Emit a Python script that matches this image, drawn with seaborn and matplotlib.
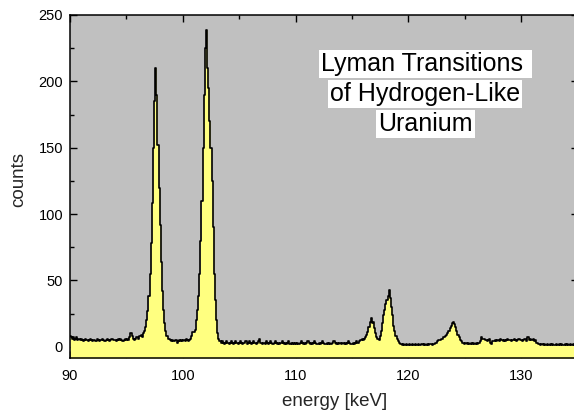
import seaborn as sns
import matplotlib.pyplot as plt
import numpy as np
from matplotlib.ticker import MultipleLocator

# spectrum: channel calibration and counts (0.1 keV per channel)
energy_start = 90.0
channel_width = 0.1
counts = [
    8, 7, 6, 7, 5, 6, 7, 5, 6, 5,            # 90
    6, 5, 4, 5, 6, 5, 4, 5, 6, 5,            # 91
    4, 5, 5, 4, 6, 5, 4, 5, 5, 6,            # 92
    5, 4, 5, 6, 5, 4, 5, 6, 6, 5,            # 93
    5, 4, 5, 6, 5, 6, 5, 4, 5, 6,            # 94
    5, 6, 5, 7, 10, 8, 6, 5, 6, 7,           # 95
    7, 6, 8, 9, 7, 10, 12, 15, 20, 27,       # 96
    38, 55, 78, 108, 150, 185, 210, 190, 152, 120,   # 97
    92, 64, 42, 28, 18, 12, 8, 6, 6, 5,      # 98
    4, 5, 4, 4, 5, 3, 4, 5, 4, 5,            # 99
    4, 5, 4, 6, 5, 4, 5, 6, 8, 11,           # 100
    11, 13, 20, 28, 38, 55, 80, 110, 150, 190,       # 101
    225, 239, 210, 195, 170, 150, 125, 90, 55, 35,   # 102
    20, 10, 6, 4, 3, 4, 3, 2, 3, 4,          # 103
    3, 2, 3, 4, 3, 2, 3, 4, 3, 2,            # 104
    3, 4, 3, 2, 3, 3, 4, 2, 3, 4,            # 105
    3, 2, 3, 4, 3, 2, 3, 4, 6, 3,            # 106
    3, 2, 3, 2, 4, 3, 2, 3, 4, 3,            # 107
    2, 3, 4, 3, 2, 3, 2, 3, 4, 3,            # 108
    2, 3, 2, 3, 4, 2, 3, 2, 3, 2,            # 109
    3, 2, 3, 2, 3, 4, 3, 2, 3, 2,            # 110
    3, 4, 3, 2, 3, 2, 3, 4, 3, 2,            # 111
    2, 3, 2, 3, 4, 3, 2, 2, 3, 2,            # 112
    3, 2, 2, 3, 4, 3, 2, 3, 2, 3,            # 113
    3, 2, 3, 2, 3, 2, 3, 4, 3, 2,            # 114
    2, 3, 2, 3, 4, 3, 3, 4, 5, 6,            # 115
    5, 6, 7, 9, 11, 15, 19, 22, 18, 19,      # 116
    14, 10, 7, 6, 5, 8, 12, 18, 24, 28,      # 117
    32, 35, 38, 43, 37, 30, 24, 16, 12, 8,   # 118
    6, 4, 3, 2, 2, 1, 2, 1, 2, 1,            # 119
    1, 2, 1, 1, 2, 1, 2, 1, 1, 2,            # 120
    1, 1, 2, 1, 2, 1, 1, 2, 1, 2,            # 121
    2, 1, 2, 2, 3, 3, 4, 5, 5, 6,            # 122
    6, 7, 7, 8, 9, 10, 12, 14, 16, 18,       # 123
    19, 17, 15, 12, 9, 7, 5, 4, 3, 3,        # 124
    2, 3, 2, 3, 2, 2, 3, 2, 3, 2,            # 125
    3, 2, 3, 3, 4, 7, 6, 6, 5, 5,            # 126
    4, 5, 6, 3, 2, 4, 4, 5, 4, 5,            # 127
    5, 4, 6, 5, 4, 5, 4, 5, 6, 5,            # 128
    5, 4, 5, 5, 6, 5, 4, 5, 6, 5,            # 129
    5, 4, 5, 6, 6, 4, 7, 5, 6, 5,            # 130
    5, 6, 4, 5, 3, 2, 2, 1, 2, 2,            # 131
    1, 2, 1, 2, 1, 1, 2, 1, 2, 1,            # 132
    1, 2, 1, 1, 2, 1, 2, 1, 1, 2,            # 133
    1, 2, 1, 1, 2, 1, 2, 1, 1, 2,            # 134
]
energy = np.round(energy_start + channel_width * np.arange(len(counts)), 2)

title_lines = ['Lyman Transitions ', 'of Hydrogen-Like', 'Uranium']
x_ticks = [90, 100, 110, 120, 130]
y_ticks = [0, 50, 100, 150, 200, 250]

sns.set_style('ticks')
plt.rcParams['font.family'] = ['Liberation Sans', 'DejaVu Sans']

fig = plt.figure(figsize=(5.74, 4.12), dpi=100)
ax = fig.add_axes([0.122, 0.1303, 0.8843, 0.8333])
ax.set_facecolor('#C0C0C0')

y_bottom = -8.7
ax.fill_between(energy, counts, y_bottom, step='mid', color='#FFFF80', lw=0)
sns.lineplot(
    x=energy
    , y=counts
    , drawstyle='steps-mid'
    , color='black'
    , linewidth=1.2
    , ax=ax
)

ax.set(xlim=(90, 135), ylim=(y_bottom, 250))
ax.set_xticks(x_ticks)
ax.set_yticks(y_ticks)
ax.xaxis.set_minor_locator(MultipleLocator(5))
ax.yaxis.set_minor_locator(MultipleLocator(25))
ax.tick_params(which='both', direction='in', top=True, right=True,
               width=1.0, color='black')
ax.tick_params(which='major', length=5, labelsize=10.5, colors='black')
ax.tick_params(axis='x', which='major', pad=8)
ax.tick_params(axis='y', which='major', pad=5)
ax.tick_params(which='minor', length=3)

for side in ['left', 'bottom', 'top', 'right']:
    ax.spines[side].set_linewidth(1.1)
    ax.spines[side].set_color('black')

ax.set_xlabel('energy [keV]', fontsize=13.5)
ax.set_ylabel('counts', fontsize=13.5)
ax.xaxis.set_label_coords(0.522, -0.101)
ax.yaxis.set_label_coords(-0.085, 0.52)

# caption with one white box per line
for line, ypos in zip(title_lines, [0.858, 0.769, 0.682]):
    ax.text(0.700, ypos, line, transform=ax.transAxes, ha='center', va='center',
            fontsize=18, color='black',
            bbox=dict(boxstyle='square,pad=0.08', fc='white', ec='none'))

fig.savefig('out.png', dpi=100)
